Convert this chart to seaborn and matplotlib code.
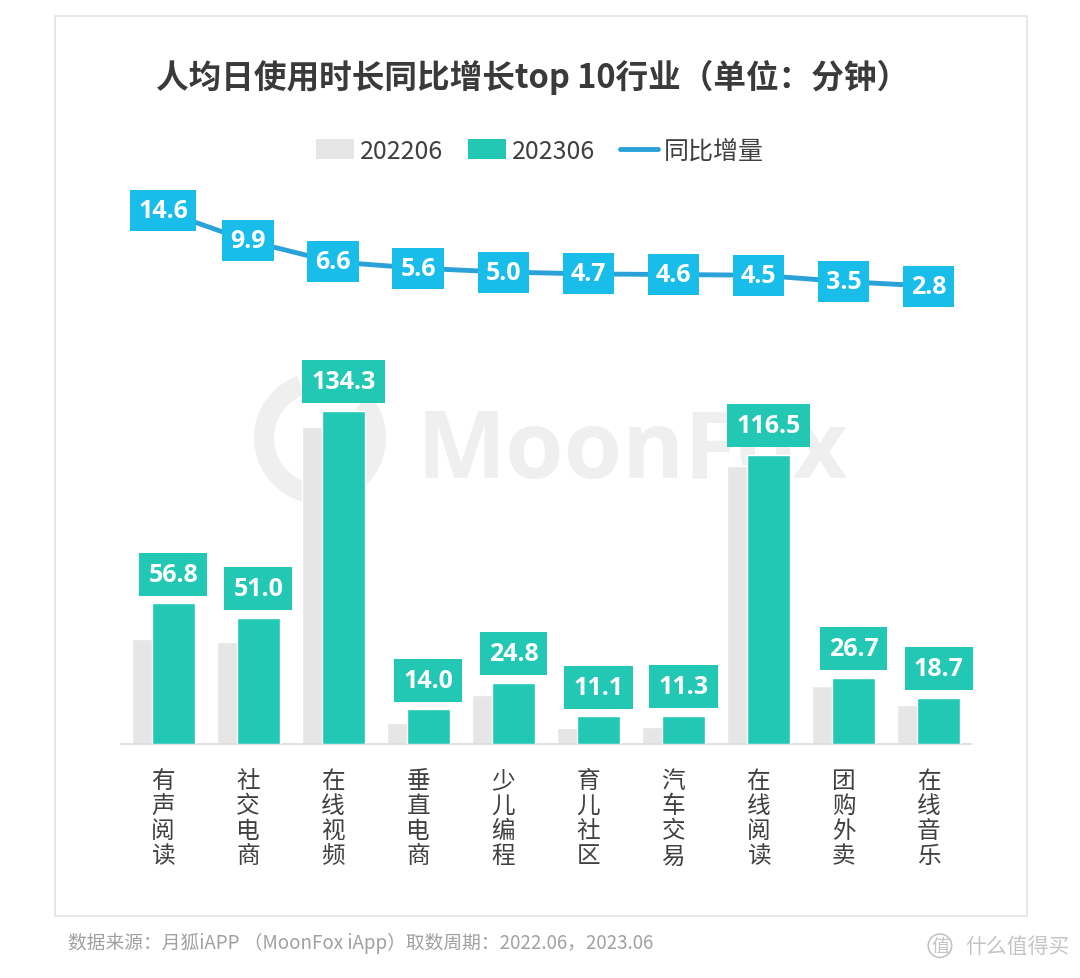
import numpy as np
import matplotlib
matplotlib.use("Agg")
import matplotlib.pyplot as plt
from matplotlib.patches import Rectangle, Wedge, Patch
from matplotlib.lines import Line2D
import seaborn as sns

categories = ['有声阅读', '社交电商', '在线视频', '垂直电商', '少儿编程',
              '育儿社区', '汽车交易', '在线阅读', '团购外卖', '在线音乐']
v2022 = [42.2, 41.1, 127.7, 8.4, 19.8, 6.4, 6.7, 112.0, 23.2, 15.9]
v2023 = [56.8, 51.0, 134.3, 14.0, 24.8, 11.1, 11.3, 116.5, 26.7, 18.7]
growth = [14.6, 9.9, 6.6, 5.6, 5.0, 4.7, 4.6, 4.5, 3.5, 2.8]
legend_labels = ['202206', '202306', '同比增量']
title = '人均日使用时长同比增长top 10行业（单位：分钟）'
footnote = '数据来源：月狐iAPP （MoonFox iApp）取数周期：2022.06，2023.06'

C_GRAY = '#e6e6e6'
C_TEAL = '#22c8b4'
C_BOX = '#18bde9'
C_LINE = '#2aa2d8'
C_TEXT = '#404040'
C_WM = '#efefef'

sns.set_theme(style='white')
plt.rcParams['font.family'] = ['Noto Sans CJK SC', 'DejaVu Sans']
NUMFONT = ['Open Sans', 'Noto Sans CJK SC', 'DejaVu Sans']

fig = plt.figure(figsize=(10.8, 9.79), dpi=100)
ax = fig.add_axes([0.1116, 0.239, 0.7875, 0.577])
ax.patch.set_visible(False)

# watermark (behind the bars)
ax.text(0.585, 0.537, 'MoonFox', fontsize=68, fontweight='bold',
        color=C_WM, ha='center', va='center', family=NUMFONT,
        transform=fig.transFigure, zorder=0.5)
ax.add_patch(Wedge((3.2, 5.4), 0.66, 110, 400, width=0.2,
                   transform=fig.dpi_scale_trans, fc=C_WM,
                   ec='none', zorder=0.5))

idx = np.arange(len(categories))
off = 0.12
sns.barplot(x=idx - off, y=v2022, native_scale=True, width=0.5, color=C_GRAY,
            saturation=1, errorbar=None, ax=ax, zorder=2)
sns.barplot(x=idx + off, y=v2023, native_scale=True, width=0.5, color=C_TEAL,
            saturation=1, errorbar=None, ax=ax, zorder=3)

ax.set_xlim(-0.5, len(categories) - 0.5)
ax.set_ylim(0, 227.8)
ax.set_xticks(idx)
ax.set_xticklabels(['\n'.join(c) for c in categories], fontsize=17,
                   color=C_TEXT, linespacing=1.12, va='top')
ax.tick_params(axis='x', length=0, pad=18)
ax.set_yticks([])
ax.set_xlabel('')
ax.set_ylabel('')
for s in ['top', 'left', 'right']:
    ax.spines[s].set_visible(False)
ax.spines['bottom'].set_color('#dcdcdc')
ax.spines['bottom'].set_linewidth(1.2)

for i, v in enumerate(v2023):
    ax.annotate(f'{v:.1f}', xy=(i + off, v), xytext=(0, 12),
                textcoords='offset points', ha='center', va='bottom',
                fontsize=18, fontweight='bold', color='white', family=NUMFONT,
                bbox=dict(boxstyle='square,pad=0.36', fc=C_TEAL, ec='none'),
                zorder=5)

ax2 = ax.twinx()
ax2.patch.set_visible(False)
sns.lineplot(x=idx, y=growth, ax=ax2, color=C_LINE, linewidth=3.5,
             legend=False, zorder=3)
ax2.set_ylim(-69.2, 19.6)
ax2.set_xlim(-0.5, len(categories) - 0.5)
ax2.axis('off')
for i, g in enumerate(growth):
    ax2.text(i, g, f'{g:.1f}', ha='center', va='center', fontsize=18,
             fontweight='bold', color='white', family=NUMFONT,
             bbox=dict(boxstyle='square,pad=0.32', fc=C_BOX, ec='none'),
             zorder=5)

# title
fig.text(0.493, 0.921, title, fontsize=23.5, fontweight='bold', color='#3a3a3a',
         ha='center', va='center')

# legend
handles = [Patch(fc=C_GRAY, ec='none'), Patch(fc=C_TEAL, ec='none'),
           Line2D([0], [0], color=C_LINE, lw=3.5)]
fig.legend(handles, legend_labels, loc='center', bbox_to_anchor=(0.5, 0.845),
           ncol=3, frameon=False, fontsize=18, handlelength=1.5,
           handleheight=0.8, handletextpad=0.25, columnspacing=1.0,
           labelcolor=C_TEXT)

# frame
fig.patches.append(Rectangle((0.051, 0.063), 0.9, 0.92,
                             transform=fig.transFigure, fill=False,
                             ec='#e3e3e3', lw=1.2))

fig.text(0.063, 0.036, footnote, fontsize=13.5, color='#a0a0a0',
         style='italic', ha='left', va='center')
fig.text(0.862, 0.033, '值', fontsize=13, color='#c4c4c4', ha='left',
         va='center', bbox=dict(boxstyle='circle,pad=0.15', fc='none',
                                ec='#c4c4c4', lw=1.2))
fig.text(0.99, 0.033, '什么值得买', fontsize=15, color='#c4c4c4',
         ha='right', va='center')

fig.savefig('out.png', dpi=100)
